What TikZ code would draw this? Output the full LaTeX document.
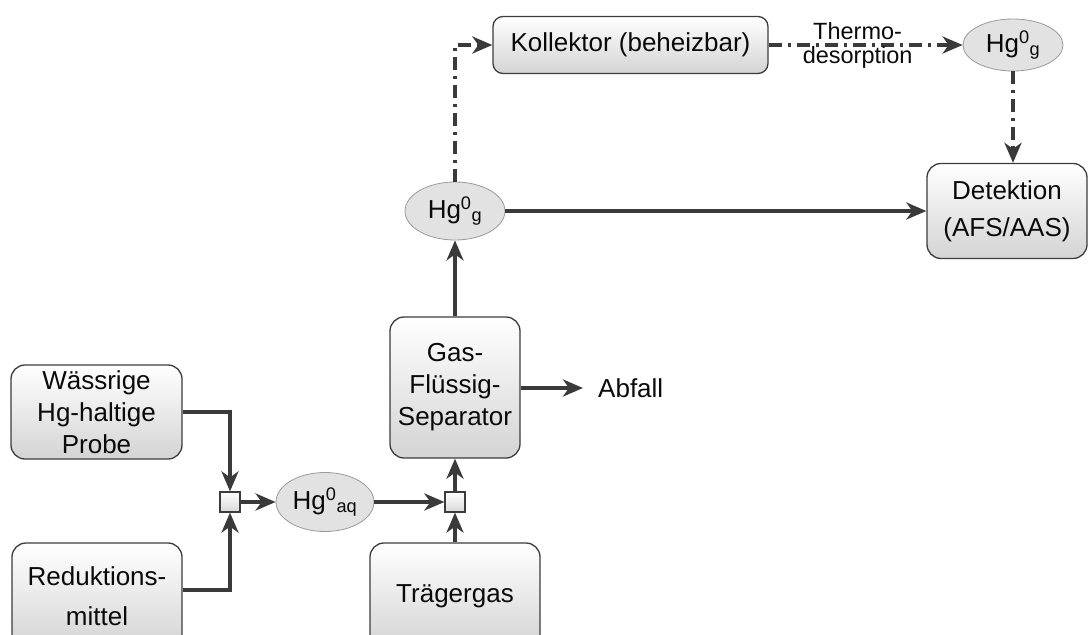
\documentclass[tikz,border=0pt]{standalone}
\usepackage{fontspec}
\setmainfont{Liberation Sans}
\usetikzlibrary{arrows.meta,shapes.geometric}
\definecolor{linec}{HTML}{3A3A3A}
\definecolor{txt}{HTML}{0A0A0A}
\definecolor{ellf}{HTML}{E2E2E2}
\definecolor{elld}{HTML}{9A9A9A}
\definecolor{boxd}{HTML}{3C3C3C}
\newcommand{\hgs}[1]{Hg\textsuperscript{0}\textsubscript{#1}}
\begin{document}
\begin{tikzpicture}[x=1pt,y=-1pt,
 box/.style={draw=boxd, line width=1.3pt, rounded corners=14pt, top color=white, bottom color=black!17, inner sep=0pt, align=center, text=txt, font=\fontsize{26}{32}\selectfont},
 ell/.style={ellipse, draw=elld, line width=0.8pt, fill=ellf, minimum width=100pt, minimum height=58pt, inner sep=0pt, text=txt, font=\fontsize{26}{32}\selectfont},
 mix/.style={draw=boxd, line width=1.2pt, top color=white, bottom color=black!15, minimum size=20pt, inner sep=0pt},
 flow/.style={draw=linec, line width=3.6pt, -{Stealth[length=20pt,width=17pt,inset=6pt]}},
 dd/.style={flow, dash pattern=on 13pt off 6pt on 3pt off 6pt},
 lbl/.style={text=txt, inner sep=0pt, align=center},
]
\useasboundingbox (0,0) rectangle (1088,635);
\begin{scope}
\clip (0,0) rectangle (1088,635);
\node[box, minimum width=171pt, minimum height=94pt] (probe) at (96.5,412) {Wässrige\\Hg-haltige\\Probe};
\node[box, minimum width=170pt, minimum height=106pt] (red) at (97,596) {Reduktions-\\[8pt]mittel};
\node[mix] (m1) at (230,502) {};
\node[ell, minimum width=98pt, minimum height=59pt] (hgaq) at (325,502) {\hgs{aq}};
\node[mix] (m2) at (455,502) {};
\node[box, minimum width=170pt, minimum height=106pt] (tg) at (455,596) {Trägergas};
\node[box, minimum width=130pt, minimum height=141pt] (sep) at (455,387.5) {Gas-\\Flüssig-\\Separator};
\coordinate (abf) at (583,388);
\node[lbl, anchor=west, font=\fontsize{26}{32}\selectfont] (abft) at (598,388) {Abfall};
\node[ell] (hgg) at (455,211) {\hgs{g}};
\node[box, rounded corners=10pt, minimum width=275pt, minimum height=57pt] (kol) at (630.5,45) {Kollektor (beheizbar)};
\node[ell, minimum height=52pt] (hgg2) at (1013,45) {\hgs{g}};
\node[box, minimum width=160pt, minimum height=95pt] (det) at (1007,211) {Detektion\\[5pt](AFS/AAS)};

\draw[flow] (probe.east) -| (m1.north);
\draw[flow] (red.east |- 0,590) -| (m1.south);
\draw[flow] (m1.east) -- (hgaq.west);
\draw[flow] (hgaq.east) -- (m2.west);
\draw[flow] (tg.north) -- (m2.south);
\draw[flow] (m2.north) -- (sep.south);
\draw[flow] (sep.east |- abf) -- (abf);
\draw[flow] (sep.north) -- (hgg.south);
\draw[flow] (hgg.east) -- (det.west);
\draw[dd] (hgg.north) |- (kol.west);
\draw[dd] (kol.east) -- (hgg2.west) node[lbl, midway, xshift=-8pt, font=\fontsize{23.5}{24}\selectfont] {Thermo-\\desorption};
\draw[dd] (hgg2.south) -- (hgg2.south |- det.north);
\end{scope}
\end{tikzpicture}
\end{document}
